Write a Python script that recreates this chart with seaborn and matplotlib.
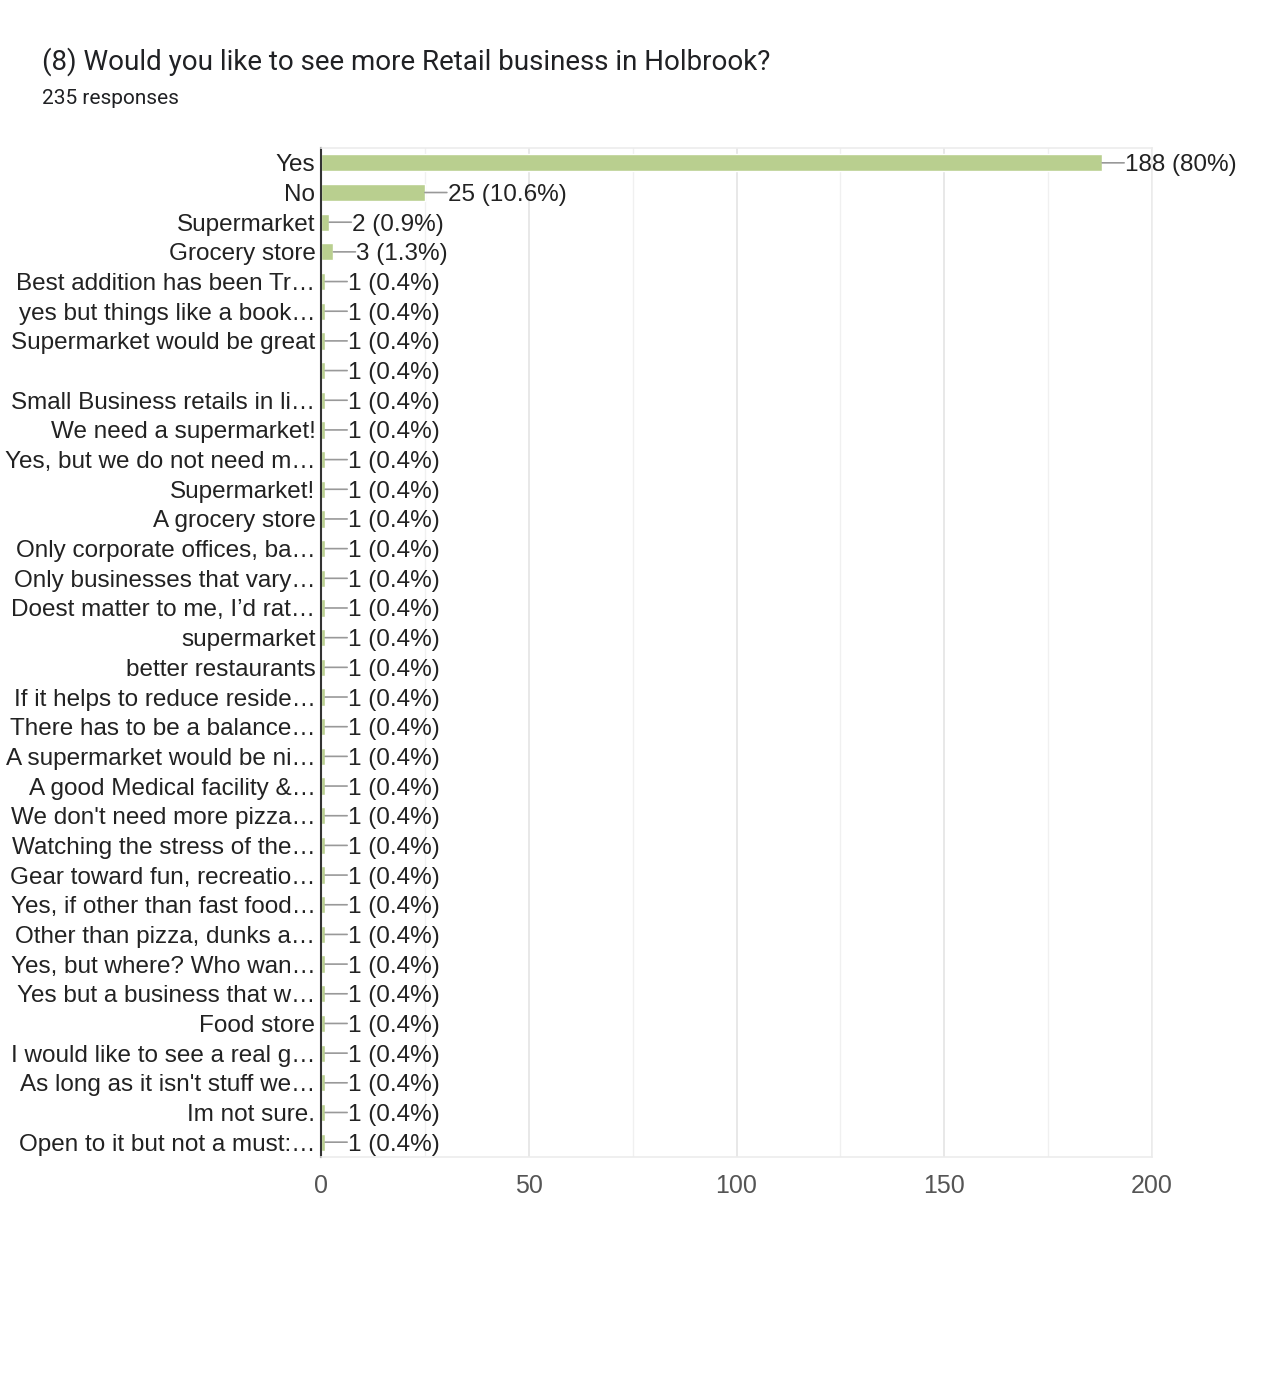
import matplotlib
matplotlib.use("Agg")
import matplotlib.pyplot as plt
import seaborn as sns
import pandas as pd
from matplotlib.ticker import MultipleLocator

# Données
TOTAL = 235
answers = [
    "Yes", "No", "Supermarket", "Grocery store",
    "Best addition has been Tr…", "yes but things like a book…",
    "Supermarket would be great", "",
    "Small Business retails in li…", "We need a supermarket!",
    "Yes, but we do not need m…", "Supermarket!", "A grocery store",
    "Only corporate offices, ba…", "Only businesses that vary…",
    "Doest matter to me, I’d rat…", "supermarket", "better restaurants",
    "If it helps to reduce reside…", "There has to be a balance…",
    "A supermarket would be ni…", "A good Medical facility &…",
    "We don't need more pizza…", "Watching the stress of the…",
    "Gear toward fun, recreatio…", "Yes, if other than fast food…",
    "Other than pizza, dunks a…", "Yes, but where? Who wan…",
    "Yes but a business that w…", "Food store",
    "I would like to see a real g…", "As long as it isn't stuff we…",
    "Im not sure.", "Open to it but not a must:…",
]
counts = [188, 25, 2, 3] + [1] * 30
x_ticks = [0, 50, 100, 150, 200]

df = pd.DataFrame({"answer": answers, "count": counts})

W, H = 1282, 1378
fig = plt.figure(figsize=(W / 100, H / 100), dpi=100)
sns.set_style("white")
plt.rcParams["font.family"] = ["Liberation Sans", "DejaVu Sans"]

ax = fig.add_axes([321 / W, 1 - 1157 / H, (1152 - 321) / W, (1157 - 148) / H])
sns.barplot(data=df, y="answer", x="count", order=answers, orient="h",
            color="#b9cf8f", saturation=1, width=0.58, ax=ax)

# étiquettes valeur (pourcentage) + petit trait de liaison
for i, c in enumerate(counts):
    pct = round(c / TOTAL * 100, 1)
    pct_txt = f"{pct:g}"
    ax.annotate("", xy=(c, i), xytext=(22, 0), textcoords="offset pixels",
                annotation_clip=False,
                arrowprops=dict(arrowstyle="-", color="#999999", lw=1.2,
                                shrinkA=0, shrinkB=0))
    ax.annotate(f"{c} ({pct_txt}%)", xy=(c, i), xytext=(23, 0),
                textcoords="offset pixels", va="center_baseline", ha="left",
                fontsize=17.5, color="#222222", annotation_clip=False)

ax.set_xlim(0, 200)
ax.set_ylim(len(answers) - 0.5, -0.5)
ax.xaxis.set_major_locator(MultipleLocator(50))
ax.xaxis.set_minor_locator(MultipleLocator(25))
ax.set_xticks(x_ticks)
ax.grid(axis="x", which="major", color="#e4e4e4", lw=1.2)
ax.grid(axis="x", which="minor", color="#f0f0f0", lw=1.0)
ax.set_axisbelow(True)
ax.set_xlabel("")
ax.set_ylabel("")
ax.tick_params(axis="y", length=0, pad=4, labelsize=17.5, labelcolor="#222222")
ax.tick_params(axis="x", which="both", length=0, pad=12, labelsize=18, labelcolor="#555555")
for s in ["top", "right", "bottom"]:
    ax.spines[s].set_color("#ececec")
    ax.spines[s].set_linewidth(1.2)
ax.spines["left"].set_color("#333333")
ax.spines["left"].set_linewidth(1.5)

fig.text(42 / W, 1 - 62 / H, "(8) Would you like to see more Retail business in Holbrook?",
         fontsize=20, family=["Roboto", "DejaVu Sans"], color="#202124", va="center")
fig.text(42 / W, 1 - 99 / H, "235 responses",
         fontsize=15, family=["Roboto", "DejaVu Sans"], color="#202124", va="center")

fig.savefig("out.png", dpi=100, facecolor="white")
